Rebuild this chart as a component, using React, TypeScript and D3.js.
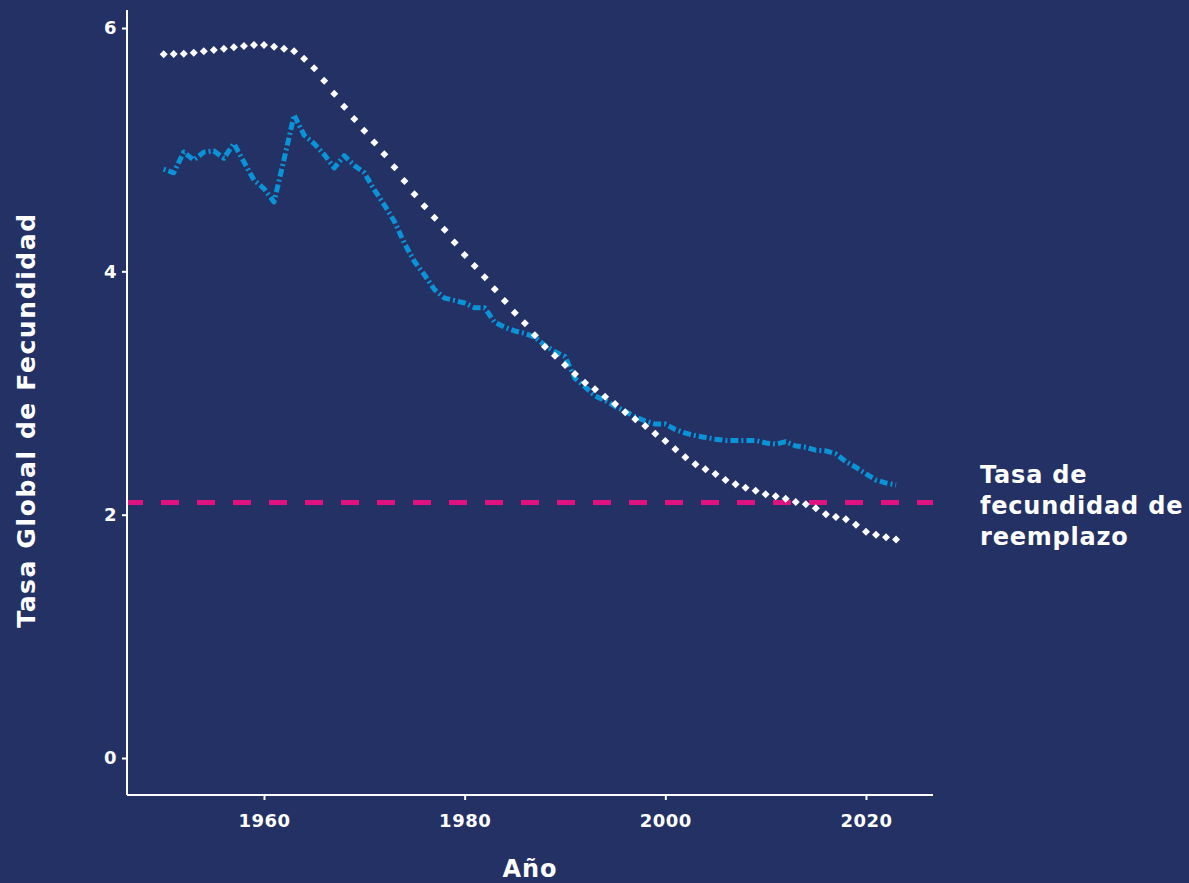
import React, { useRef, useEffect } from "react";
import * as d3 from "d3";

const years = d3.range(1950, 2024);

// region (white diamonds)
const regionTfr = [
  5.784, 5.786, 5.789, 5.797, 5.808, 5.819, 5.83, 5.841, 5.852, 5.86,
  5.86, 5.846, 5.83, 5.808, 5.748, 5.669, 5.567, 5.46, 5.353, 5.252,
  5.156, 5.06, 4.962, 4.855, 4.742, 4.633, 4.534, 4.441, 4.342, 4.238,
  4.135, 4.044, 3.951, 3.852, 3.756, 3.66, 3.573, 3.474, 3.38, 3.306,
  3.23, 3.156, 3.085, 3.03, 2.97, 2.91, 2.841, 2.784, 2.729, 2.665,
  2.605, 2.537, 2.471, 2.414, 2.373, 2.334, 2.285, 2.25, 2.222, 2.197,
  2.167, 2.151, 2.131, 2.104, 2.085, 2.052, 2.003, 1.981, 1.962, 1.918,
  1.86, 1.835, 1.814, 1.797,
];

// country (blue dash-dot)
const countryTfr = [
  4.84, 4.81, 4.98, 4.915, 4.98, 4.99, 4.93, 5.05, 4.9, 4.75,
  4.68, 4.57, 4.92, 5.285, 5.12, 5.05, 4.96, 4.85, 4.95, 4.87,
  4.81, 4.67, 4.545, 4.41, 4.23, 4.08, 3.97, 3.85, 3.78, 3.76,
  3.74, 3.7, 3.7, 3.58, 3.54, 3.51, 3.49, 3.46, 3.39, 3.34,
  3.3, 3.12, 3.05, 2.975, 2.94, 2.89, 2.85, 2.805, 2.77, 2.745,
  2.745, 2.7, 2.67, 2.65, 2.635, 2.62, 2.61, 2.61, 2.61, 2.61,
  2.59, 2.58, 2.6, 2.565, 2.555, 2.53, 2.525, 2.5, 2.435, 2.39,
  2.335, 2.285, 2.26, 2.245,
];

const replacementRate = 2.1;
const xTicks = [1960, 1980, 2000, 2020];
const yTicks = [0, 2, 4, 6];
const noteLines = ["Tasa de", "fecundidad de", "reemplazo"];

const BG = "#233165";
const FONT = "'DejaVu Sans', sans-serif";

export default function App() {
  const svgRef = useRef<SVGSVGElement>(null);
  const width = 1189;
  const height = 883;

  useEffect(() => {
    const svg = d3.select(svgRef.current);
    svg.selectAll("*").remove();

    const x = d3.scaleLinear().domain([1946.345, 2026.68]).range([127, 933]);
    const y = d3.scaleLinear().domain([-0.304, 6.148]).range([795, 10]);

    svg.append("rect").attr("width", width).attr("height", height).attr("fill", BG);

    // replacement line
    svg
      .append("line")
      .attr("x1", x.range()[0])
      .attr("x2", x.range()[1])
      .attr("y1", y(replacementRate))
      .attr("y2", y(replacementRate))
      .attr("stroke", "#E0127F")
      .attr("stroke-width", 5)
      .attr("stroke-dasharray", "18,18")
      .attr("stroke-dashoffset", 2);

    const pts = years.map((yr, i) => ({ yr, v: countryTfr[i] }));
    const line = d3
      .line<{ yr: number; v: number }>()
      .x((d) => x(d.yr))
      .y((d) => y(d.v));

    svg
      .append("path")
      .datum(pts)
      .attr("fill", "none")
      .attr("stroke", "#0B93D8")
      .attr("stroke-width", 5)
      .attr("stroke-linejoin", "round")
      .attr("stroke-dasharray", "2,3,8,3")
      .attr("d", line);

    const diamond = d3.symbol().type(d3.symbolSquare).size(32);
    svg
      .append("g")
      .selectAll("path")
      .data(years)
      .join("path")
      .attr("d", diamond)
      .attr("fill", "#fff")
      .attr("transform", (d, i) => `translate(${x(d)},${y(regionTfr[i])}) rotate(45)`);

    // axes
    const axisX = svg.append("g").attr("transform", `translate(0,${y.range()[0]})`);
    axisX
      .call(d3.axisBottom(x).tickValues(xTicks).tickFormat(d3.format("d")).tickSize(5).tickPadding(14))
      .call((g) => g.select(".domain").attr("d", `M${x.range()[0]},0H${x.range()[1]}`));
    const axisY = svg.append("g").attr("transform", `translate(${x.range()[0]},0)`);
    axisY
      .call(d3.axisLeft(y).tickValues(yTicks).tickFormat(d3.format("d")).tickSize(5).tickPadding(5))
      .call((g) => g.select(".domain").attr("d", `M0,${y.range()[0]}V${y.range()[1]}`));

    svg
      .selectAll(".domain, .tick line")
      .attr("stroke", "#fff")
      .attr("stroke-width", 2);
    svg
      .selectAll(".tick text")
      .attr("fill", "#fff")
      .attr("font-family", FONT)
      .attr("font-weight", "bold")
      .attr("font-size", 18)
      .attr("letter-spacing", 0.5);

    svg
      .append("text")
      .attr("x", 530)
      .attr("y", 877)
      .attr("text-anchor", "middle")
      .attr("fill", "#fff")
      .attr("font-family", FONT)
      .attr("font-weight", "bold")
      .attr("font-size", 24)
      .attr("letter-spacing", 1)
      .text("Año");

    svg
      .append("text")
      .attr("transform", "translate(35,420) rotate(-90)")
      .attr("text-anchor", "middle")
      .attr("fill", "#fff")
      .attr("font-family", FONT)
      .attr("font-weight", "bold")
      .attr("font-size", 25)
      .attr("letter-spacing", 1.6)
      .text("Tasa Global de Fecundidad");

    svg
      .append("g")
      .selectAll("text")
      .data(noteLines)
      .join("text")
      .attr("x", 980)
      .attr("y", (d, i) => 483 + i * 31)
      .attr("fill", "#fff")
      .attr("font-family", FONT)
      .attr("font-weight", "bold")
      .attr("font-size", 24)
      .attr("letter-spacing", 0.8)
      .text((d) => d);
  }, []);

  return (
    <svg
      ref={svgRef}
      width={width}
      height={height}
      style={{ position: "absolute", left: 0, top: 0, display: "block" }}
    ></svg>
  );
}
